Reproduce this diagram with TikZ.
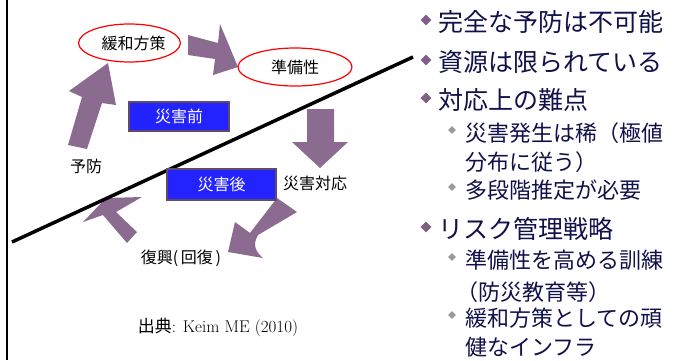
\documentclass[tikz,border=0pt]{standalone}
\usepackage{fontspec}
\usetikzlibrary{shapes.geometric}
\newfontfamily\jp{Noto Sans CJK JP}
\definecolor{arrowc}{HTML}{8C6B91}
\definecolor{boxfill}{HTML}{2323FF}
\definecolor{boxdraw}{HTML}{5F4B68}
\definecolor{navy}{HTML}{10104A}
\definecolor{bulletmain}{HTML}{7F5F86}
\definecolor{bulletsub}{HTML}{9A9A9A}
\tikzset{
  blockarrow/.style={fill=arrowc, draw=none},
  cyc/.style={ellipse, draw=red, line width=1.2pt, inner sep=0pt, font=\jp\fontsize{16}{18}\selectfont},
  phasebox/.style={draw=boxdraw, line width=1.5pt, fill=boxfill, text=white, inner sep=0pt, font=\jp\fontsize{16}{18}\selectfont},
  lbl/.style={inner sep=0pt, font=\jp\fontsize{16}{18}\selectfont},
  mainitem/.style={anchor=west, inner sep=0pt, text=navy, font=\jp\fontsize{25}{30}\selectfont},
  subitem/.style={anchor=west, inner sep=0pt, text=navy, font=\jp\fontsize{22}{26}\selectfont},
  mainbul/.style={diamond, fill=bulletmain, inner sep=0pt, minimum size=11pt},
  subbul/.style={diamond, fill=bulletsub, inner sep=0pt, minimum size=8pt},
}
\begin{document}
\begin{tikzpicture}[x=1pt,y=-1pt]
\useasboundingbox (0,0) rectangle (688,360);
% frame line
\coordinate (ft) at (7,0);
\coordinate (fb) at (7,360);
\draw[line width=1.2pt] (ft) -- (fb);
% block arrows
\fill[blockarrow] (68,145) -- (82,97) -- (69,91) -- (108,63) -- (116,105) -- (102,103) -- (87,149) -- cycle;
\fill[blockarrow] (188,35) -- (218,43) -- (220,24) -- (238,67) -- (213,75) -- (215,59) -- (188,55) -- cycle;
\fill[blockarrow] (307,109) -- (334,109) -- (334,142) -- (348,142) -- (320,168) -- (292,142) -- (307,142) -- cycle;
\fill[blockarrow] (277,198) -- (297,212) -- (258,235) .. controls (252,245) and (256,252) .. (263,258) -- (228,252) -- (235,222) -- (250,233) -- cycle;
\fill[blockarrow] (106,198) -- (142,197) -- (116,212) -- (137,232) -- (127,243) -- (103,215) -- (83,222) -- cycle;
% diagonal line
\coordinate (ls) at (12,242);
\coordinate (le) at (413,57);
\draw[line width=3.5pt] (ls) -- (le);
% ellipses
\node[cyc, minimum width=93pt, minimum height=38pt] (mit) at (129.5,43) {\hspace*{8pt}緩和方策};
\node[cyc, minimum width=114pt, minimum height=38pt] (prep) at (295,67) {準備性};
% boxes
\node[phasebox, minimum width=100pt, minimum height=29pt] (before) at (179,116.5) {災害前};
\node[phasebox, minimum width=109pt, minimum height=31pt] (after) at (221.5,184.5) {災害後};
% labels
\node[lbl] (prev) at (86,166) {予防};
\node[lbl] (resp) at (315,183) {災害対応};
\node[lbl] (reco) at (181,258) {復興(\,回復\,)};
\node[inner sep=0pt, font=\fontsize{17}{20}\selectfont] (src) at (218,327) {{\jp 出典}: Keim ME (2010)};
% right bullets
\node[mainbul] (b1) at (426,20) {};
\node[mainitem] (t1) at (438,22) {完全な予防は不可能};
\node[mainbul] (b2) at (426,60) {};
\node[mainitem] (t2) at (438,62) {資源は限られている};
\node[mainbul] (b3) at (426,98) {};
\node[mainitem] (t3) at (438,100) {対応上の難点};
\node[subbul] (s1) at (452,130) {};
\node[subitem] (u1) at (465,133) {災害発生は稀（極値};
\node[subitem] (u1b) at (465,162) {分布に従う）};
\node[subbul] (s2) at (452,187) {};
\node[subitem] (u2) at (465,190) {多段階推定が必要};
\node[mainbul] (b4) at (426,227) {};
\node[mainitem] (t4) at (438,229) {リスク管理戦略};
\node[subbul] (s3) at (452,257) {};
\node[subitem] (u3) at (465,260) {準備性を高める訓練};
\node[subitem] (u3b) at (456,292) {（防災教育等）};
\node[subbul] (s4) at (452,315) {};
\node[subitem] (u4) at (465,318) {緩和方策としての頑};
\node[subitem] (u4b) at (465,347) {健なインフラ};
\end{tikzpicture}
\end{document}
